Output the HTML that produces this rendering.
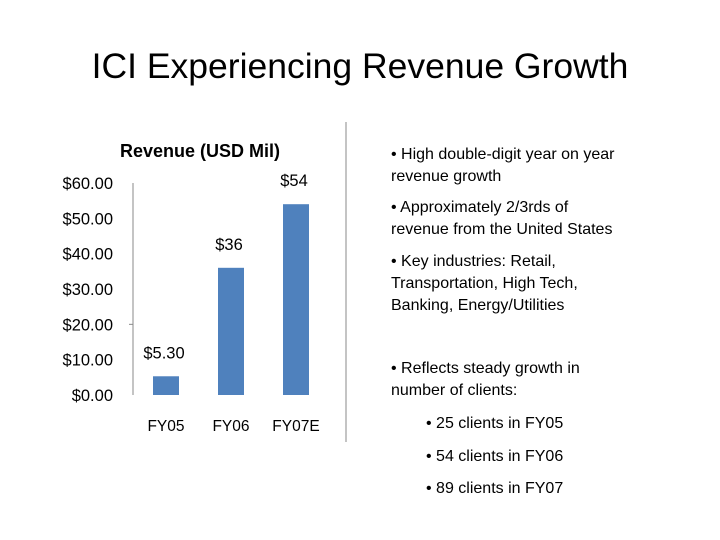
<!DOCTYPE html>
<html><head><meta charset="utf-8"><style>
body{margin:0;width:720px;height:540px;background:#fff;overflow:hidden;font-family:"Liberation Sans",sans-serif;}
.t{position:absolute;color:#000;}
</style></head><body>
<div class="t" style="left:0;width:720px;top:46px;text-align:center;font-size:35.5px;">ICI Experiencing Revenue Growth</div>
<svg width="720" height="540" style="position:absolute;left:0;top:0">
<text x="200" y="157" text-anchor="middle" font-size="18" font-weight="bold" font-family="Liberation Sans,sans-serif">Revenue (USD Mil)</text>
<g id="ax"></g>
<line x1="346" y1="122" x2="346" y2="442" stroke="#888"/>
</svg>
<div style="position:absolute;left:391px;top:144px;font-size:16px;line-height:22px;color:#000;">
<div class="t" style="top:0;width:258px">• High double-digit year on year revenue growth</div>
<div class="t" style="top:53px;width:238px">• Approximately 2/3rds of revenue from the United States</div>
<div class="t" style="top:107px;width:235px">• Key industries: Retail, Transportation, High Tech, Banking, Energy/Utilities</div>
<div class="t" style="top:214px;width:230px">• Reflects steady growth in number of clients:</div>
<div class="t" style="left:35px;top:269px;white-space:nowrap">• 25 clients in FY05</div>
<div class="t" style="left:35px;top:302px;white-space:nowrap">• 54 clients in FY06</div>
<div class="t" style="left:35px;top:334px;white-space:nowrap">• 89 clients in FY07</div>
</div>
<script>
const categories=["FY05","FY06","FY07E"];
const revenues=[5.3,36,54];
const valueLabels=["$5.30","$36","$54"];
const tickValues=[0,10,20,30,40,50,60];
const tickLabels=["$0.00","$10.00","$20.00","$30.00","$40.00","$50.00","$60.00"];
const NS="http://www.w3.org/2000/svg";
const g=document.getElementById('ax');
const y0=395,yTop=183,ymax=60;
const y=v=>y0-(v/ymax)*(y0-yTop);
const x=i=>166+i*65;
function mk(t,a,txt){const e=document.createElementNS(NS,t);for(const k in a)e.setAttribute(k,a[k]);if(txt!=null)e.textContent=txt;g.appendChild(e);return e;}
let e=mk('line',{x1:133,y1:yTop,x2:133,y2:y0,stroke:'#888'});


e=mk('line',{x1:129,y1:y(20),x2:133,y2:y(20),stroke:'#888'});


tickValues.forEach((v,i)=>{
 const t=mk('text',{x:113,y:y(v)+6,'text-anchor':'end','font-size':16.5,'font-family':'Liberation Sans,sans-serif'},tickLabels[i]);
 
 
});
revenues.forEach((v,i)=>{
 const r=mk('rect',{x:x(i)-13,y:y(v),width:26,height:y0-y(v),fill:'#4f81bd'});
 
 
 const l=mk('text',{x:x(i)-2,y:y(v)-18,'text-anchor':'middle','font-size':16.5,'font-family':'Liberation Sans,sans-serif'},valueLabels[i]);
 
 
 const c=mk('text',{x:x(i),y:431,'text-anchor':'middle','font-size':15.5,'font-family':'Liberation Sans,sans-serif'},categories[i]);
 
 
});
</script>
</body></html>
